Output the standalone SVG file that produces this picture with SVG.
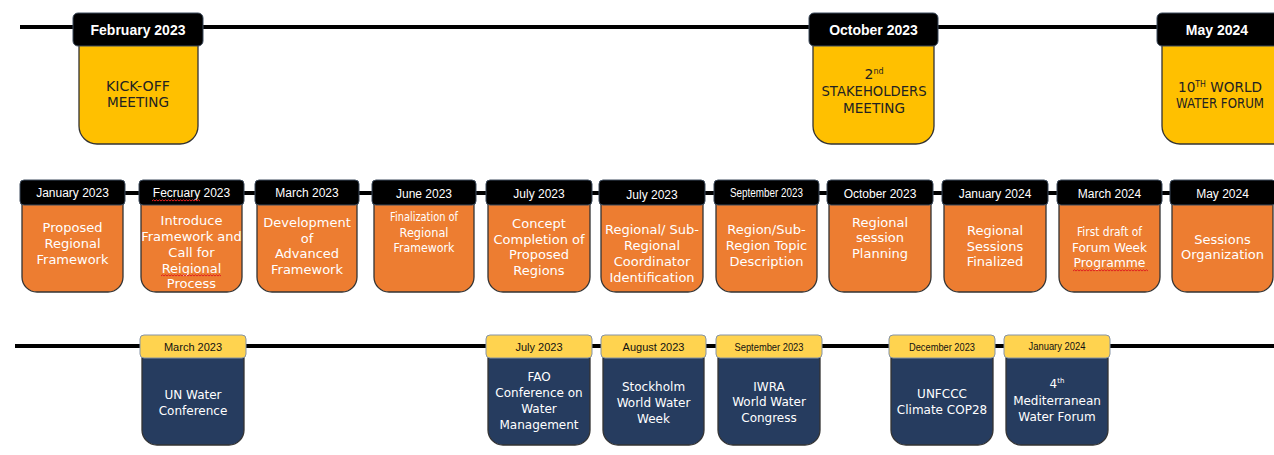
<svg xmlns="http://www.w3.org/2000/svg" width="1274" height="455" viewBox="0 0 1274 455">
<style>
.hd{fill:#000;stroke:#3d4b5c;stroke-width:1}
.hdy{fill:#FFD34F;stroke:#8593a6;stroke-width:1}
.by{fill:#FFC000;stroke:#333;stroke-width:1.3}
.bo{fill:#ED7D31;stroke:#333;stroke-width:1.3}
.bn{fill:#263C5F;stroke:#333;stroke-width:1.3}
.line{stroke:#000;stroke-width:4;fill:none}
.t1{font-family:"Liberation Sans",Arial,sans-serif;font-size:14px;font-weight:bold;fill:#fff;text-anchor:middle}
.t2{font-family:"Liberation Sans",Arial,sans-serif;font-size:12px;fill:#fff;text-anchor:middle}
.t3{font-family:"Liberation Sans",Arial,sans-serif;font-size:11px;fill:#111;text-anchor:middle}
.ty{font-family:"DejaVu Sans",sans-serif;font-size:14px;fill:#222;text-anchor:middle}
.to{font-family:"DejaVu Sans",sans-serif;font-size:13px;fill:#fff;text-anchor:middle}
.tn{font-family:"DejaVu Sans",sans-serif;font-size:12px;fill:#fff;text-anchor:middle}
.sq{fill:none;stroke:#e02020;stroke-width:1}
</style>
<g id="connectors">
<line class="line" x1="20" y1="27" x2="1274" y2="27"/>
<line class="line" x1="22" y1="193" x2="1274" y2="193"/>
<line class="line" x1="15" y1="346" x2="1274" y2="346"/>
</g>
<g id="top-feb2023">
<path class="by" d="M79 44 H198 V126 A18 18 0 0 1 180 144 H97 A18 18 0 0 1 79 126 Z"/>
<rect class="hd" x="73" y="13" width="130" height="33" rx="5"/>
<text class="t1" x="138" y="35">February 2023</text>
<text class="ty" x="138" y="91" textLength="64" lengthAdjust="spacingAndGlyphs">KICK-OFF</text>
<text class="ty" x="138" y="107" textLength="62" lengthAdjust="spacingAndGlyphs">MEETING</text>
</g>
<g id="top-oct2023">
<path class="by" d="M813 44 H934 V126 A18 18 0 0 1 916 144 H831 A18 18 0 0 1 813 126 Z"/>
<rect class="hd" x="809" y="13" width="129" height="33" rx="5"/>
<text class="t1" x="873.5" y="35">October 2023</text>
<text class="ty" x="874" y="79">2<tspan font-size="8" dy="-5">nd</tspan></text>
<text class="ty" x="874" y="96" textLength="105" lengthAdjust="spacingAndGlyphs">STAKEHOLDERS</text>
<text class="ty" x="874" y="113" textLength="62" lengthAdjust="spacingAndGlyphs">MEETING</text>
</g>
<g id="top-may2024">
<path class="by" d="M1162 44 H1290 V144 H1180 A18 18 0 0 1 1162 126 Z"/>
<rect class="hd" x="1157" y="13" width="140" height="33" rx="5"/>
<text class="t1" x="1217" y="35">May 2024</text>
<text class="ty" x="1220" y="92" textLength="84" lengthAdjust="spacingAndGlyphs">10<tspan font-size="8" dy="-5">TH</tspan><tspan dy="5"> WORLD</tspan></text>
<text class="ty" x="1220" y="108" textLength="88" lengthAdjust="spacingAndGlyphs">WATER FORUM</text>
</g>

<g id="m1">
<path class="bo" d="M22 203 H123 V277 A15 15 0 0 1 108 292 H37 A15 15 0 0 1 22 277 Z"/>
<rect class="hd" x="20" y="180" width="105" height="25" rx="4"/>
<text class="t2" x="72.5" y="197">January 2023</text>
<text class="to" x="72.5" y="232">Proposed</text>
<text class="to" x="72.5" y="248">Regional</text>
<text class="to" x="72.5" y="264">Framework</text>
</g>
<g id="m2">
<path class="bo" d="M141 203 H242 V277 A15 15 0 0 1 227 292 H156 A15 15 0 0 1 141 277 Z"/>
<rect class="hd" x="139" y="180" width="105" height="25" rx="4"/>
<text class="t2" x="191.5" y="197">Fecruary 2023</text>
<path class="sq" d="M152 201 l1.5-1.2 l1.5 1.2 l1.5-1.2 l1.5 1.2 l1.5-1.2 l1.5 1.2 l1.5-1.2 l1.5 1.2 l1.5-1.2 l1.5 1.2 l1.5-1.2 l1.5 1.2 l1.5-1.2 l1.5 1.2 l1.5-1.2 l1.5 1.2 l1.5-1.2 l1.5 1.2 l1.5-1.2 l1.5 1.2 l1.5-1.2 l1.5 1.2 l1.5-1.2 l1.5 1.2 l1.5-1.2 l1.5 1.2 l1.5-1.2 l1.5 1.2 l1.5-1.2 l1.5 1.2 l1.5-1.2 l1.5 1.2"/>
<text class="to" x="191.5" y="225">Introduce</text>
<text class="to" x="191.5" y="241">Framework and</text>
<text class="to" x="191.5" y="257">Call for</text>
<text class="to" x="191.5" y="273">Reigional</text>
<path class="sq" d="M161 276 l1.5-1.2 l1.5 1.2 l1.5-1.2 l1.5 1.2 l1.5-1.2 l1.5 1.2 l1.5-1.2 l1.5 1.2 l1.5-1.2 l1.5 1.2 l1.5-1.2 l1.5 1.2 l1.5-1.2 l1.5 1.2 l1.5-1.2 l1.5 1.2 l1.5-1.2 l1.5 1.2 l1.5-1.2 l1.5 1.2 l1.5-1.2 l1.5 1.2 l1.5-1.2 l1.5 1.2 l1.5-1.2 l1.5 1.2 l1.5-1.2 l1.5 1.2 l1.5-1.2 l1.5 1.2 l1.5-1.2 l1.5 1.2 l1.5-1.2 l1.5 1.2 l1.5-1.2 l1.5 1.2 l1.5-1.2 l1.5 1.2 l1.5-1.2 l1.5 1.2"/>
<text class="to" x="191.5" y="288">Process</text>
</g>
<g id="m3">
<path class="bo" d="M257 203 H357 V277 A15 15 0 0 1 342 292 H272 A15 15 0 0 1 257 277 Z"/>
<rect class="hd" x="255" y="180" width="104" height="25" rx="4"/>
<text class="t2" x="307" y="197">March 2023</text>
<text class="to" x="307" y="227">Development</text>
<text class="to" x="307" y="243">of</text>
<text class="to" x="307" y="258">Advanced</text>
<text class="to" x="307" y="274">Framework</text>
</g>
<g id="m4">
<path class="bo" d="M374 203 H474 V277 A15 15 0 0 1 459 292 H389 A15 15 0 0 1 374 277 Z"/>
<rect class="hd" x="372" y="180" width="104" height="25" rx="4"/>
<text class="t2" x="424" y="198">June 2023</text>
<text class="to" x="424" y="221" textLength="68" lengthAdjust="spacingAndGlyphs">Finalization of</text>
<text class="to" x="424" y="237" textLength="49" lengthAdjust="spacingAndGlyphs">Regional</text>
<text class="to" x="424" y="252" textLength="61" lengthAdjust="spacingAndGlyphs">Framework</text>
</g>
<g id="m5">
<path class="bo" d="M488 203 H590 V277 A15 15 0 0 1 575 292 H503 A15 15 0 0 1 488 277 Z"/>
<rect class="hd" x="486" y="180" width="106" height="25" rx="4"/>
<text class="t2" x="539" y="198">July 2023</text>
<text class="to" x="539" y="228">Concept</text>
<text class="to" x="539" y="244">Completion of</text>
<text class="to" x="539" y="259">Proposed</text>
<text class="to" x="539" y="275">Regions</text>
</g>
<g id="m6">
<path class="bo" d="M601 203 H703 V277 A15 15 0 0 1 688 292 H616 A15 15 0 0 1 601 277 Z"/>
<rect class="hd" x="599" y="180" width="106" height="25" rx="4"/>
<text class="t2" x="652" y="199">July 2023</text>
<text class="to" x="652" y="234">Regional/ Sub-</text>
<text class="to" x="652" y="250">Regional</text>
<text class="to" x="652" y="266">Coordinator</text>
<text class="to" x="652" y="282">Identification</text>
</g>
<g id="m7">
<path class="bo" d="M716 203 H817 V277 A15 15 0 0 1 802 292 H731 A15 15 0 0 1 716 277 Z"/>
<rect class="hd" x="714" y="180" width="105" height="25" rx="4"/>
<text class="t2" x="766.5" y="197" textLength="73" lengthAdjust="spacingAndGlyphs">September 2023</text>
<text class="to" x="766.5" y="234">Region/Sub-</text>
<text class="to" x="766.5" y="250">Region Topic</text>
<text class="to" x="766.5" y="266">Description</text>
</g>
<g id="m8">
<path class="bo" d="M829 203 H931 V277 A15 15 0 0 1 916 292 H844 A15 15 0 0 1 829 277 Z"/>
<rect class="hd" x="827" y="180" width="106" height="25" rx="4"/>
<text class="t2" x="880" y="198">October 2023</text>
<text class="to" x="880" y="227">Regional</text>
<text class="to" x="880" y="242">session</text>
<text class="to" x="880" y="258">Planning</text>
</g>
<g id="m9">
<path class="bo" d="M944 203 H1046 V277 A15 15 0 0 1 1031 292 H959 A15 15 0 0 1 944 277 Z"/>
<rect class="hd" x="942" y="180" width="106" height="25" rx="4"/>
<text class="t2" x="995" y="198">January 2024</text>
<text class="to" x="995" y="235">Regional</text>
<text class="to" x="995" y="251">Sessions</text>
<text class="to" x="995" y="266">Finalized</text>
</g>
<g id="m10">
<path class="bo" d="M1059 203 H1160 V277 A15 15 0 0 1 1145 292 H1074 A15 15 0 0 1 1059 277 Z"/>
<rect class="hd" x="1057" y="180" width="105" height="25" rx="4"/>
<text class="t2" x="1109.5" y="198">March 2024</text>
<text class="to" x="1109.5" y="236" textLength="65" lengthAdjust="spacingAndGlyphs">First draft of</text>
<text class="to" x="1109.5" y="252" textLength="75" lengthAdjust="spacingAndGlyphs">Forum Week</text>
<text class="to" x="1109.5" y="267" textLength="72" lengthAdjust="spacingAndGlyphs">Programme</text>
<path class="sq" d="M1073 271 l1.5-1.2 l1.5 1.2 l1.5-1.2 l1.5 1.2 l1.5-1.2 l1.5 1.2 l1.5-1.2 l1.5 1.2 l1.5-1.2 l1.5 1.2 l1.5-1.2 l1.5 1.2 l1.5-1.2 l1.5 1.2 l1.5-1.2 l1.5 1.2 l1.5-1.2 l1.5 1.2 l1.5-1.2 l1.5 1.2 l1.5-1.2 l1.5 1.2 l1.5-1.2 l1.5 1.2 l1.5-1.2 l1.5 1.2 l1.5-1.2 l1.5 1.2 l1.5-1.2 l1.5 1.2 l1.5-1.2 l1.5 1.2 l1.5-1.2 l1.5 1.2 l1.5-1.2 l1.5 1.2 l1.5-1.2 l1.5 1.2 l1.5-1.2 l1.5 1.2 l1.5-1.2 l1.5 1.2 l1.5-1.2 l1.5 1.2 l1.5-1.2 l1.5 1.2 l1.5-1.2 l1.5 1.2 l1.5-1.2 l1.5 1.2"/>
</g>
<g id="m11">
<path class="bo" d="M1172 203 H1273 V277 A15 15 0 0 1 1258 292 H1187 A15 15 0 0 1 1172 277 Z"/>
<rect class="hd" x="1170" y="180" width="106" height="25" rx="4"/>
<text class="t2" x="1222.5" y="198">May 2024</text>
<text class="to" x="1222.5" y="244">Sessions</text>
<text class="to" x="1222.5" y="259">Organization</text>
</g>

<g id="b1">
<path class="bn" d="M142 356 H244 V430 A15 15 0 0 1 229 445 H157 A15 15 0 0 1 142 430 Z"/>
<rect class="hdy" x="140" y="335" width="106" height="23" rx="4"/>
<text class="t3" x="193" y="351">March 2023</text>
<text class="tn" x="193" y="399" font-size="13">UN Water</text>
<text class="tn" x="193" y="415" font-size="13">Conference</text>
</g>
<g id="b2">
<path class="bn" d="M488 356 H590 V430 A15 15 0 0 1 575 445 H503 A15 15 0 0 1 488 430 Z"/>
<rect class="hdy" x="486" y="335" width="106" height="23" rx="4"/>
<text class="t3" x="539" y="351">July 2023</text>
<text class="tn" x="539" y="381">FAO</text>
<text class="tn" x="539" y="397">Conference on</text>
<text class="tn" x="539" y="413">Water</text>
<text class="tn" x="539" y="429">Management</text>
</g>
<g id="b3">
<path class="bn" d="M603 356 H704 V430 A15 15 0 0 1 689 445 H618 A15 15 0 0 1 603 430 Z"/>
<rect class="hdy" x="601" y="335" width="105" height="23" rx="4"/>
<text class="t3" x="653.5" y="351">August 2023</text>
<text class="tn" x="653.5" y="391">Stockholm</text>
<text class="tn" x="653.5" y="407">World Water</text>
<text class="tn" x="653.5" y="423">Week</text>
</g>
<g id="b4">
<path class="bn" d="M718 356 H820 V430 A15 15 0 0 1 805 445 H733 A15 15 0 0 1 718 430 Z"/>
<rect class="hdy" x="716" y="335" width="106" height="23" rx="4"/>
<text class="t3" x="769" y="351" textLength="69" lengthAdjust="spacingAndGlyphs">September 2023</text>
<text class="tn" x="769" y="391">IWRA</text>
<text class="tn" x="769" y="406">World Water</text>
<text class="tn" x="769" y="422">Congress</text>
</g>
<g id="b5">
<path class="bn" d="M891 356 H993 V430 A15 15 0 0 1 978 445 H906 A15 15 0 0 1 891 430 Z"/>
<rect class="hdy" x="889" y="335" width="106" height="23" rx="4"/>
<text class="t3" x="942" y="351" textLength="66" lengthAdjust="spacingAndGlyphs">December 2023</text>
<text class="tn" x="942" y="398">UNFCCC</text>
<text class="tn" x="942" y="414">Climate COP28</text>
</g>
<g id="b6">
<path class="bn" d="M1006 356 H1108 V430 A15 15 0 0 1 1093 445 H1021 A15 15 0 0 1 1006 430 Z"/>
<rect class="hdy" x="1004" y="335" width="106" height="23" rx="4"/>
<text class="t3" x="1057" y="350" textLength="57" lengthAdjust="spacingAndGlyphs">January 2024</text>
<text class="tn" x="1057" y="388">4<tspan font-size="7" dy="-5">th</tspan></text>
<text class="tn" x="1057" y="405">Mediterranean</text>
<text class="tn" x="1057" y="421">Water Forum</text>
</g>
</svg>
